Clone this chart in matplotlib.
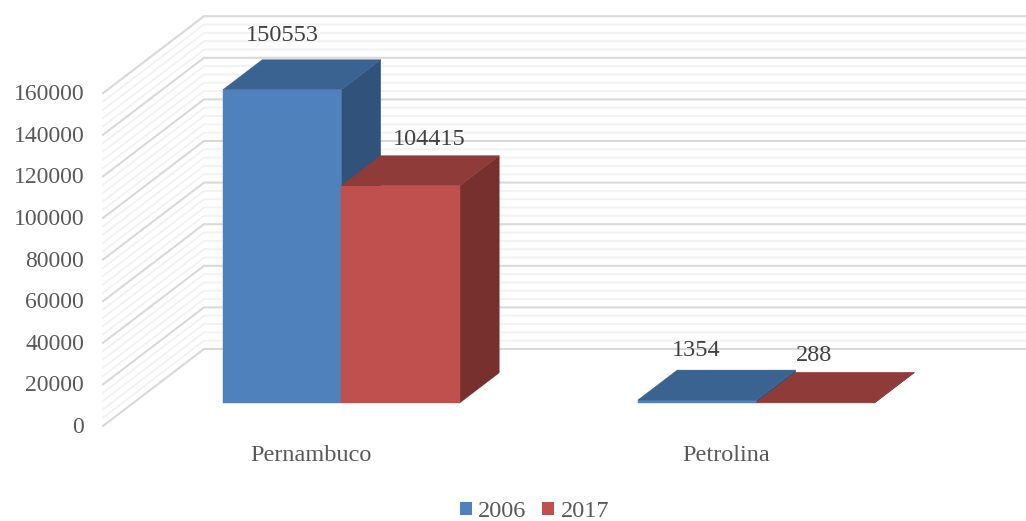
import matplotlib
matplotlib.use("Agg")
import matplotlib.pyplot as plt
import numpy as np
from matplotlib.patches import Patch, Polygon
from matplotlib.transforms import ScaledTranslation

plt.rcParams['font.family'] = ['Liberation Serif', 'DejaVu Serif']

categorias = ["Pernambuco", "Petrolina"]
anos = ["2006", "2017"]
valores_2006 = [150553, 1354]
valores_2017 = [104415, 288]

# desplazamiento de cada etiqueta de dato, en pixeles desde la cara frontal
offsets_2006 = [(0, 54), (-1, 50)]
offsets_2017 = [(29, 46), (-2, 47)]

W, H = 1026, 521
x0_px, y0_px = 103, 426      # esquina frontal de la pared izquierda
cat0_px, cat_px = 311, 415   # centro de la primera categoria y paso
v_px = 41.6 / 20000          # pixeles por unidad de valor
top_px = 16

# profundidad del grafico "3D": d=1 es la pared del fondo
dx_d = 101 / cat_px
dy_d = 77 / v_px
d_front, d_back = 0.30, 0.69
bar_w = 118.5 / cat_px


def proy(x, v, d):
    return x + d * dx_d, v + d * dy_d


def caja(ax, x_left, x_right, v, c_front, c_top, c_side):
    front = [proy(x_left, 0, d_front), proy(x_right, 0, d_front),
             proy(x_right, v, d_front), proy(x_left, v, d_front)]
    top = [proy(x_left, v, d_front), proy(x_right, v, d_front),
           proy(x_right, v, d_back), proy(x_left, v, d_back)]
    side = [proy(x_right, 0, d_front), proy(x_right, 0, d_back),
            proy(x_right, v, d_back), proy(x_right, v, d_front)]
    ax.add_patch(Polygon(side, facecolor=c_side, edgecolor=c_side, lw=0.3, zorder=3))
    ax.add_patch(Polygon(front, facecolor=c_front, edgecolor=c_front, lw=0.3, zorder=3))
    ax.add_patch(Polygon(top, facecolor=c_top, edgecolor=c_top, lw=0.3, zorder=3))


fig = plt.figure(figsize=(W / 100, H / 100), dpi=100)
ax = fig.add_axes([x0_px / W, (H - y0_px) / H, (W - x0_px) / W, (y0_px - top_px) / H])
ax.set_xlim((x0_px - cat0_px) / cat_px, (W - cat0_px) / cat_px)
ax.set_ylim(0, (y0_px - top_px) / v_px)
x_izq = ax.get_xlim()[0]
x_der = ax.get_xlim()[1]

# Rejilla: pared izquierda y pared del fondo
for v in np.arange(0, 160001, 4000):
    mayor = v % 20000 == 0
    xb, yb = proy(x_izq, v, 1)
    ax.plot([x_izq, xb, x_der], [v, yb, yb], color="#d9d9d9" if mayor else "#f2f2f2",
            lw=1.5 if mayor else 1.4, zorder=2 if mayor else 1, clip_on=False,
            solid_joinstyle="miter")

colores_2006 = ("#4f81bd", "#3b6391", "#30527b")
colores_2017 = ("#c0504d", "#8f3b39", "#78302e")

for i in range(len(categorias)):
    caja(ax, i - bar_w, i, valores_2006[i], *colores_2006)
    caja(ax, i, i + bar_w, valores_2017[i], *colores_2017)
    for xc, val, off in [(i - bar_w / 2, valores_2006[i], offsets_2006[i]),
                         (i + bar_w / 2, valores_2017[i], offsets_2017[i])]:
        ax.annotate(str(val), proy(xc, val, d_front),
                    xytext=(off[0] * 0.72, off[1] * 0.72), textcoords="offset points",
                    ha="center", va="center", fontsize=17.5, color="#404040", zorder=5)

for s in ax.spines.values():
    s.set_visible(False)
ax.patch.set_alpha(0)
ax.set_yticks(np.arange(0, 160001, 20000))
ax.set_yticklabels([str(v) for v in np.arange(0, 160001, 20000)])
ax.set_xticks(range(len(categorias)))
ax.set_xticklabels(categorias)
ax.tick_params(axis="y", length=0, pad=13.5, labelsize=17, labelcolor="#595959")
ax.tick_params(axis="x", length=0, pad=14, labelsize=17.5, labelcolor="#595959")
sube = ScaledTranslation(0, 1 / 100, fig.dpi_scale_trans)
for lab in ax.get_yticklabels():
    lab.set_transform(lab.get_transform() + sube)

handles = [Patch(facecolor=colores_2006[0]), Patch(facecolor=colores_2017[0])]
fig.legend(handles, anos, loc="lower center", bbox_to_anchor=(534.5 / W, -0.002), ncol=2,
           frameon=False, fontsize=17.5, labelcolor="#595959", handlelength=0.49,
           handleheight=0.49, handletextpad=0.25, columnspacing=0.66,
           borderpad=0, borderaxespad=0)

fig.savefig("out.png", dpi=100)
